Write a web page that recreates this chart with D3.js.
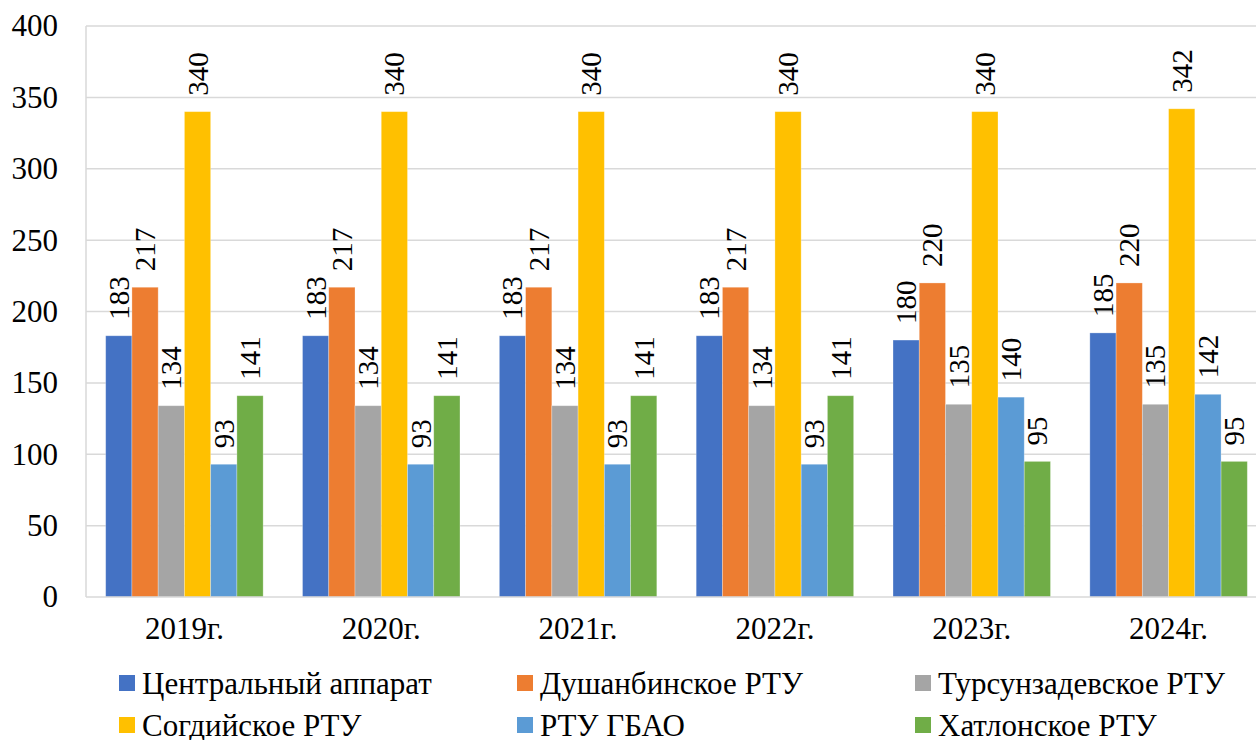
<!DOCTYPE html>
<html><head><meta charset="utf-8">
<script src="https://cdn.jsdelivr.net/npm/d3@7"></script>
<style>body{margin:0;background:#fff;} svg{display:block;}</style>
</head><body>
<svg id="c" width="1256" height="740"></svg>
<script>
const categories = ["2019г.","2020г.","2021г.","2022г.","2023г.","2024г."];
const seriesNames = ["Центральный аппарат","Душанбинское РТУ","Турсунзадевское РТУ","Согдийское РТУ","РТУ ГБАО","Хатлонское РТУ"];
const central   = [183,183,183,183,180,185];
const dushanbe  = [217,217,217,217,220,220];
const tursun    = [134,134,134,134,135,135];
const sogd      = [340,340,340,340,340,342];
const gbao      = [93,93,93,93,140,142];
const khatlon   = [141,141,141,141,95,95];
const seriesValues = [central,dushanbe,tursun,sogd,gbao,khatlon];
const colors = ["#4472C4","#ED7D31","#A5A5A5","#FFC000","#5B9BD5","#70AD47"];
const yTicks = [0,50,100,150,200,250,300,350,400];

const FONT = "Liberation Serif";
const svg = d3.select("#c");
const pL = 86, pR = 1267, pT = 26, pB = 597;
const x = d3.scaleBand().domain(categories).range([pL,pR]).paddingInner(0.2).paddingOuter(0.1);
const xi = d3.scaleBand().domain(d3.range(seriesNames.length)).range([0,x.bandwidth()]);
const y = d3.scaleLinear().domain([0,400]).range([pB,pT]);

// gridlines
svg.append("g").selectAll("line").data(yTicks.filter(d=>d>0)).join("line")
  .attr("x1",pL).attr("x2",pR).attr("y1",d=>y(d)).attr("y2",d=>y(d))
  .attr("stroke","#d9d9d9").attr("stroke-width",1.5);
// left axis line
svg.append("line").attr("x1",pL).attr("x2",pL).attr("y1",pT).attr("y2",pB)
  .attr("stroke","#d9d9d9").attr("stroke-width",1.5);

// y axis labels
const yAxis = d3.axisLeft(y).tickValues(yTicks).tickSize(0).tickPadding(28);
const ya = svg.append("g").attr("transform",`translate(${pL},0)`).call(yAxis);
ya.attr("font-family",FONT);
ya.select(".domain").remove();
ya.selectAll("text").attr("font-size",31).attr("fill","#000").attr("font-family",FONT);

// bars
const groups = svg.append("g").selectAll("g").data(categories).join("g")
  .attr("transform",d=>`translate(${x(d)},0)`);
groups.each(function(cat,ci){
  const g = d3.select(this);
  const vals = seriesValues.map((s,si)=>({si,v:s[ci]}));
  g.selectAll("rect").data(vals).join("rect")
    .attr("x",d=>xi(d.si)).attr("width",xi.bandwidth())
    .attr("y",d=>y(d.v)).attr("height",d=>y(0)-y(d.v))
    .attr("fill",d=>colors[d.si]).attr("stroke","#ffffff").attr("stroke-opacity",0.35).attr("stroke-width",0.8);
  g.selectAll("text").data(vals).join("text")
    .attr("transform",d=>`translate(${xi(d.si)+xi.bandwidth()/2},${y(d.v)-16}) rotate(-90)`)
    .attr("text-anchor","start").attr("dominant-baseline","central")
    .attr("font-family",FONT).attr("font-size",29).attr("fill","#000").text(d=>d.v);
});

// baseline
svg.append("line").attr("x1",pL).attr("x2",pR).attr("y1",pB).attr("y2",pB)
  .attr("stroke","#d9d9d9").attr("stroke-width",1.5);

// x axis labels
const xAxis = d3.axisBottom(x).tickSize(0).tickPadding(20);
const xa = svg.append("g").attr("transform",`translate(0,${pB})`).call(xAxis);
xa.attr("font-family",FONT);
xa.select(".domain").remove();
xa.selectAll("text").attr("font-size",31).attr("fill","#000").attr("font-family",FONT);

// legend
const legX = [119,517,915], legY = [683,725];
const leg = svg.append("g").selectAll("g").data(seriesNames).join("g")
  .attr("transform",(d,i)=>`translate(${legX[i%3]},${legY[Math.floor(i/3)]})`);
leg.append("rect").attr("x",0).attr("y",-8).attr("width",16).attr("height",16).attr("fill",(d,i)=>colors[i]);
leg.append("text").attr("x",23).attr("y",0).attr("dominant-baseline","central")
  .attr("font-family",FONT).attr("font-size",31).attr("fill","#000").text(d=>d);
</script>
</body></html>
